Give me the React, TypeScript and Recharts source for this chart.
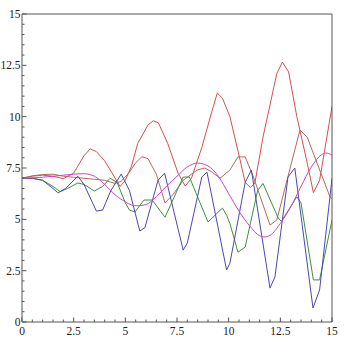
import React from "react";
import { LineChart, Line, XAxis, YAxis } from "recharts";

// [x, y] points
const redPts = [
  [0, 7.0], [0.5, 7.1], [1, 7.15], [1.5, 7.1], [2, 6.98], [2.5, 7.25], [3, 8.1], [3.3, 8.43],
  [3.6, 8.3], [4, 7.85], [4.3, 7.35], [4.75, 6.6], [5, 6.9], [5.3, 7.6], [5.6, 8.7], [6.1, 9.6],
  [6.35, 9.8], [6.6, 9.7], [7.05, 8.7], [7.55, 7.25], [7.9, 6.62], [8.2, 7.0], [8.7, 8.5],
  [9.2, 10.3], [9.45, 11.15], [9.7, 10.9], [10.06, 10.0], [10.55, 7.9], [10.8, 6.8], [11.05, 6.55],
  [11.27, 6.77], [11.66, 9.0], [12.33, 12.1], [12.6, 12.66], [12.9, 12.18], [13.3, 10.0],
  [13.8, 7.75], [14.1, 6.3], [14.4, 6.9], [15, 10.5],
];
const brownPts = [
  [0, 7.0], [0.5, 7.12], [1, 7.18], [1.5, 7.2], [2, 7.1], [2.5, 7.05], [3, 7.0], [3.5, 6.95],
  [4, 6.9], [4.5, 6.75], [4.8, 6.85], [5.2, 7.3], [5.5, 7.75], [5.8, 8.05], [6.1, 7.95],
  [6.5, 7.2], [6.92, 5.8], [7.3, 6.2], [7.8, 6.9], [8.47, 7.4], [8.85, 7.5], [9.2, 7.3],
  [9.58, 7.0], [10.06, 7.4], [10.45, 8.04], [10.8, 8.04], [11.2, 7.06], [12.0, 4.72],
  [12.33, 4.97], [13.45, 9.35], [13.8, 9.0], [14.9, 6.1], [15, 6.0],
];
const greenPts = [
  [0, 7.0], [0.5, 7.0], [1, 6.9], [1.5, 6.6], [1.85, 6.35], [2.2, 6.5], [2.7, 6.77], [3.0, 6.7],
  [3.5, 6.38], [3.9, 6.6], [4.26, 7.0], [4.6, 6.8], [5.0, 5.8], [5.2, 5.45], [5.47, 5.36],
  [5.9, 5.94], [6.3, 5.94], [6.92, 5.1], [7.8, 7.06], [8.1, 7.06], [9.0, 4.87], [9.7, 5.55],
  [9.9, 5.2], [10.06, 4.8], [10.45, 3.4], [10.8, 3.65], [11.4, 6.4], [11.66, 6.75], [12.4, 5.06],
  [12.55, 4.9], [13.3, 6.1], [13.5, 5.8], [14.1, 2.05], [14.4, 2.05], [15, 4.97],
];
const bluePts = [
  [0, 7.0], [0.5, 7.0], [1, 6.9], [1.5, 6.5], [1.75, 6.29], [2.1, 6.5], [2.7, 7.1], [3.0, 6.7],
  [3.6, 5.4], [3.9, 5.45], [4.3, 6.4], [4.8, 7.2], [5.2, 6.4], [5.7, 4.43], [5.95, 4.6],
  [6.58, 6.9], [6.9, 7.25], [7.8, 3.5], [8.0, 3.85], [8.7, 7.06], [8.95, 7.3], [9.9, 2.53],
  [10.06, 2.87], [10.8, 6.8], [11.1, 7.4], [12.0, 1.65], [12.24, 2.2], [12.87, 7.06], [13.2, 7.5],
  [14.08, 0.68], [14.4, 1.56], [15, 7.0],
];
const magentaPts = [
  [0, 7.0], [1, 7.05], [2, 7.15], [2.5, 7.2], [3, 7.22], [3.5, 7.1], [4, 6.7], [4.5, 6.2],
  [5, 5.85], [5.3, 5.7], [5.6, 5.66], [6, 5.72], [6.5, 6.1], [7, 6.62], [7.5, 7.1], [8, 7.55],
  [8.5, 7.74], [9, 7.6], [9.5, 7.1], [10, 6.25], [10.5, 5.4], [11, 4.7], [11.5, 4.2], [11.7, 4.14],
  [12, 4.22], [12.5, 4.8], [13, 5.6], [13.5, 6.6], [14, 7.55], [14.5, 8.15], [14.7, 8.23], [15, 8.13],
];

const majorTicks = [0, 2.5, 5, 7.5, 10, 12.5, 15];
const allTicks = [
  0, 0.5, 1, 1.5, 2, 2.5, 3, 3.5, 4, 4.5, 5, 5.5, 6, 6.5, 7, 7.5, 8, 8.5, 9, 9.5, 10,
  10.5, 11, 11.5, 12, 12.5, 13, 13.5, 14, 14.5, 15,
];

const toRows = (pts: number[][]) => pts.map(([x, y]) => ({ x, y }));

const frame = "#555";
const serifFont = "Liberation Serif";

const isMajor = (v: number) => majorTicks.includes(v);

// inward ticks (minor every 0.5) on all four sides, labels only bottom/left
function makeTick(side: "bottom" | "top" | "left" | "right") {
  return (props: any) => {
    const { x, y, payload } = props;
    const v = payload.value;
    const len = isMajor(v) ? 4.5 : 2.5;
    let line;
    if (side === "bottom") line = <line x1={x} y1={y} x2={x} y2={y - len} stroke={frame} />;
    else if (side === "top") line = <line x1={x} y1={y} x2={x} y2={y + len} stroke={frame} />;
    else if (side === "left") line = <line x1={x} y1={y} x2={x + len} y2={y} stroke={frame} />;
    else line = <line x1={x} y1={y} x2={x - len} y2={y} stroke={frame} />;
    let label = null;
    if (isMajor(v) && side === "bottom")
      label = (
        <text x={x} y={y + 13} textAnchor="middle" fontSize={11.5} fontFamily={serifFont} fill="#222">
          {v}
        </text>
      );
    if (isMajor(v) && side === "left")
      label = (
        <text x={x - 1.5} y={y + 4} textAnchor="end" fontSize={11.5} fontFamily={serifFont} fill="#222">
          {v}
        </text>
      );
    return (
      <g>
        {line}
        {label}
      </g>
    );
  };
}

const series = [
  { pts: redPts, color: "#d4504c", type: "linear" },
  { pts: brownPts, color: "#b56a60", type: "linear" },
  { pts: greenPts, color: "#3f8f3f", type: "linear" },
  { pts: bluePts, color: "#4848b4", type: "linear" },
  { pts: magentaPts, color: "#cc44cc", type: "monotone" },
];

export default function App() {
  return (
    <div style={{ position: "absolute", left: 0, top: 0, background: "#fff", fontFamily: serifFont }}>
      <LineChart width={345} height={337} margin={{ top: 13, right: 12, bottom: 0, left: 0 }}>
        <XAxis
          xAxisId="b"
          dataKey="x"
          type="number"
          domain={[0, 15]}
          ticks={allTicks}
          interval={0}
          height={15}
          tickSize={0}
          tickMargin={0}
          tickLine={false}
          axisLine={{ stroke: frame }}
          tick={makeTick("bottom")}
          allowDataOverflow
        />
        <XAxis
          xAxisId="t"
          orientation="top"
          dataKey="x"
          type="number"
          domain={[0, 15]}
          ticks={allTicks}
          interval={0}
          height={1}
          tickSize={0}
          tickMargin={0}
          tickLine={false}
          axisLine={{ stroke: frame }}
          tick={makeTick("top")}
        />
        <YAxis
          yAxisId="l"
          type="number"
          domain={[0, 15]}
          ticks={allTicks}
          interval={0}
          width={22}
          tickSize={0}
          tickMargin={0}
          tickLine={false}
          axisLine={{ stroke: frame }}
          tick={makeTick("left")}
          allowDataOverflow
        />
        <YAxis
          yAxisId="r"
          orientation="right"
          type="number"
          domain={[0, 15]}
          ticks={allTicks}
          interval={0}
          width={1}
          tickSize={0}
          tickMargin={0}
          tickLine={false}
          axisLine={{ stroke: frame }}
          tick={makeTick("right")}
        />
        {series.map((s, i) => (
          <Line
            key={i}
            xAxisId="b"
            yAxisId="l"
            data={toRows(s.pts)}
            dataKey="y"
            type={s.type as any}
            stroke={s.color}
            strokeWidth={1}
            dot={false}
            activeDot={false}
            isAnimationActive={false}
          />
        ))}
      </LineChart>
    </div>
  );
}
